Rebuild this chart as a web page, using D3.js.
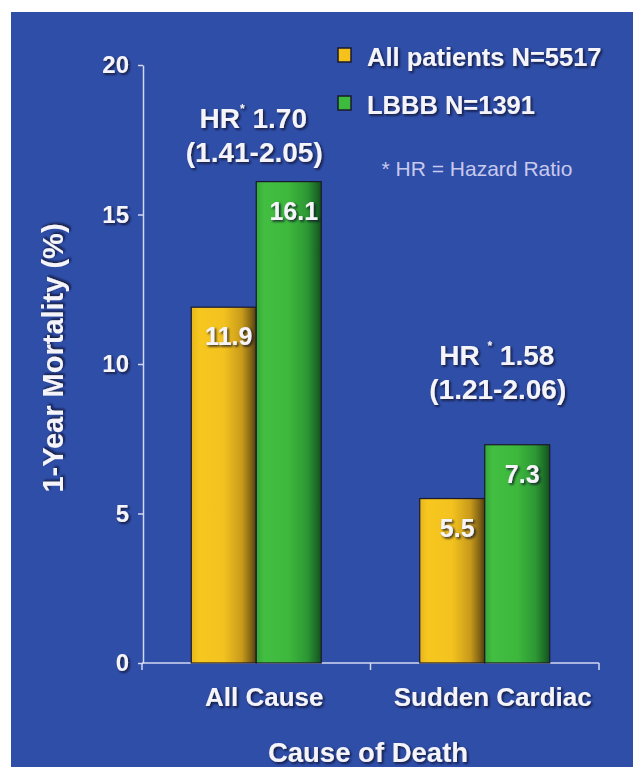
<!DOCTYPE html>
<html>
<head>
<meta charset="utf-8">
<script src="https://cdn.jsdelivr.net/npm/d3@7"></script>
<style>
  html, body { margin: 0; padding: 0; background: #ffffff; }
  svg { display: block; }
  text { font-family: "Liberation Sans", Arial, sans-serif; }
</style>
</head>
<body>
<svg id="chart" width="633" height="767"></svg>
<script>
// ---- Data ----
const categories = ["All Cause", "Sudden Cardiac"];
const seriesNames = ["All patients N=5517", "LBBB N=1391"];
const allPatients = [11.9, 5.5];
const lbbb = [16.1, 7.3];
const yTicks = [0, 5, 10, 15, 20];
const hrValues = ["1.70", "1.58"];
const hrCI = ["(1.41-2.05)", "(1.21-2.06)"];
const footnote = "* HR = Hazard Ratio";
const yTitle = "1-Year Mortality (%)";
const xTitle = "Cause of Death";

const seriesKeys = ["all", "lbbb"];
const data = categories.map((c, i) => ({ cat: c, all: allPatients[i], lbbb: lbbb[i] }));

// ---- Setup ----
const svg = d3.select("#chart");
const W = 633, H = 767;
const bg = "#2f4ea7";
const axisColor = "#d3d7f3";
const textColor = "#f4f4fa";

const defs = svg.append("defs");
const f = defs.append("filter").attr("id", "shadow").attr("x", "-20%").attr("y", "-20%").attr("width", "140%").attr("height", "140%");
f.append("feDropShadow").attr("dx", 1.6).attr("dy", 1.6).attr("stdDeviation", 0.9)
  .attr("flood-color", "#0c0c28").attr("flood-opacity", 0.85);

function grad(id, stops) {
  const g = defs.append("linearGradient").attr("id", id).attr("x1", "0").attr("x2", "1").attr("y1", "0").attr("y2", "0");
  stops.forEach(s => g.append("stop").attr("offset", s[0]).attr("stop-color", s[1]));
}
grad("gYellow", [[0, "#e6b51c"], [0.12, "#f7c71f"], [0.5, "#f3c21f"], [0.78, "#c89a1a"], [0.93, "#7d6014"], [1, "#4e3c10"]]);
grad("gGreen", [[0, "#35a83a"], [0.12, "#42be41"], [0.5, "#3db83d"], [0.78, "#2d9834"], [0.93, "#1b6a26"], [1, "#134e1e"]]);
const fills = { all: "url(#gYellow)", lbbb: "url(#gGreen)" };
const legendColors = { all: "#f5c21c", lbbb: "#3dbb3d" };

// background
svg.append("rect").attr("x", 11).attr("y", 12).attr("width", W - 11).attr("height", H - 12).attr("fill", bg);

// ---- Scales ----
const y = d3.scaleLinear().domain([0, 20]).range([663, 65]);
const x = d3.scaleBand().domain(categories).range([142, 599]).paddingInner(0).paddingOuter(0);
const xs = d3.scaleBand().domain(seriesKeys).range([0, x.bandwidth()]).paddingInner(0).paddingOuter(0.758);

// ---- Y axis ----
const yAxis = svg.append("g").attr("transform", "translate(143,0)")
  .call(d3.axisLeft(y).tickValues(yTicks).tickSize(5).tickSizeOuter(0).tickPadding(9).tickFormat(d3.format("d")));
yAxis.select(".domain").attr("stroke", axisColor).attr("stroke-width", 1.5);
yAxis.selectAll(".tick line").attr("stroke", axisColor).attr("stroke-width", 1.5);
yAxis.selectAll(".tick text").attr("fill", textColor).attr("font-size", 24).attr("font-weight", "bold")
  .attr("font-family", "Liberation Sans, Arial, sans-serif").attr("filter", "url(#shadow)");

// ---- X axis ----
const xAxisG = svg.append("g");
xAxisG.append("line").attr("x1", x.range()[0]).attr("x2", x.range()[1]).attr("y1", y(0)).attr("y2", y(0))
  .attr("stroke", axisColor).attr("stroke-width", 1.5);
const boundaries = categories.map(c => x(c)).concat([x.range()[1]]);
xAxisG.selectAll("line.xt").data(boundaries).join("line").attr("class", "xt")
  .attr("x1", d => d).attr("x2", d => d).attr("y1", y(0)).attr("y2", y(0) + 7)
  .attr("stroke", axisColor).attr("stroke-width", 1.5);
xAxisG.selectAll("text.cat").data(categories).join("text").attr("class", "cat")
  .attr("x", d => x(d) + x.bandwidth() / 2 + 8).attr("y", 706)
  .attr("text-anchor", "middle").attr("fill", textColor).attr("font-size", 26).attr("font-weight", "bold")
  .attr("filter", "url(#shadow)").text(d => d);

// ---- Bars ----
const groups = svg.selectAll("g.grp").data(data).join("g").attr("class", "grp")
  .attr("transform", d => `translate(${x(d.cat)},0)`);
groups.selectAll("rect").data(d => seriesKeys.map(k => ({ key: k, value: d[k] }))).join("rect")
  .attr("x", d => xs(d.key)).attr("width", xs.bandwidth())
  .attr("y", d => y(d.value)).attr("height", d => y(0) - y(d.value))
  .attr("fill", d => fills[d.key]).attr("stroke", "#1c1a2a").attr("stroke-width", 1.2);
groups.selectAll("text.val").data(d => seriesKeys.map(k => ({ key: k, value: d[k] }))).join("text").attr("class", "val")
  .attr("x", d => xs(d.key) + xs.bandwidth() / 2 + 5).attr("y", d => y(d.value) + 38)
  .attr("text-anchor", "middle").attr("fill", textColor).attr("font-size", 25).attr("font-weight", "bold")
  .attr("filter", "url(#shadow)").text(d => d3.format(".1f")(d.value));

// ---- HR annotations ----
const hrOffsets = [-3, 12];
const hrTop = [128, 365];
categories.forEach((c, i) => {
  const cx = x(c) + x.bandwidth() / 2 + hrOffsets[i];
  const t = svg.append("text").attr("x", cx).attr("y", hrTop[i]).attr("text-anchor", "middle")
    .attr("fill", textColor).attr("font-size", 28).attr("font-weight", "bold").attr("filter", "url(#shadow)");
  t.append("tspan").text("HR" + (i === 1 ? " " : ""));
  t.append("tspan").attr("font-size", 12).attr("dy", -15).text("*");
  t.append("tspan").attr("dy", 15).text(" " + hrValues[i]);
  svg.append("text").attr("x", cx + 1).attr("y", hrTop[i] + 34).attr("text-anchor", "middle")
    .attr("fill", textColor).attr("font-size", 28).attr("font-weight", "bold").attr("filter", "url(#shadow)")
    .text(hrCI[i]);
});

// ---- Legend ----
const legend = svg.append("g").attr("transform", "translate(338,48)");
seriesKeys.forEach((k, i) => {
  const g = legend.append("g").attr("transform", `translate(0,${i * 48})`);
  g.append("rect").attr("width", 13).attr("height", 14).attr("fill", legendColors[k])
    .attr("stroke", "#1c1a2a").attr("stroke-width", 1.5);
  g.append("text").attr("x", 29).attr("y", 18).attr("fill", textColor).attr("font-size", 25.5)
    .attr("font-weight", "bold").attr("filter", "url(#shadow)").text(seriesNames[i]);
});

// footnote
svg.append("text").attr("x", 477).attr("y", 176).attr("text-anchor", "middle")
  .attr("fill", "#c9c9ee").attr("font-size", 21).text(footnote);

// ---- Axis titles ----
svg.append("text").attr("transform", "translate(63,358) rotate(-90)").attr("text-anchor", "middle")
  .attr("fill", textColor).attr("font-size", 29).attr("font-weight", "bold").attr("filter", "url(#shadow)")
  .text(yTitle);
svg.append("text").attr("x", 368).attr("y", 762).attr("text-anchor", "middle")
  .attr("fill", textColor).attr("font-size", 27.5).attr("font-weight", "bold").attr("filter", "url(#shadow)")
  .text(xTitle);
</script>
</body>
</html>
